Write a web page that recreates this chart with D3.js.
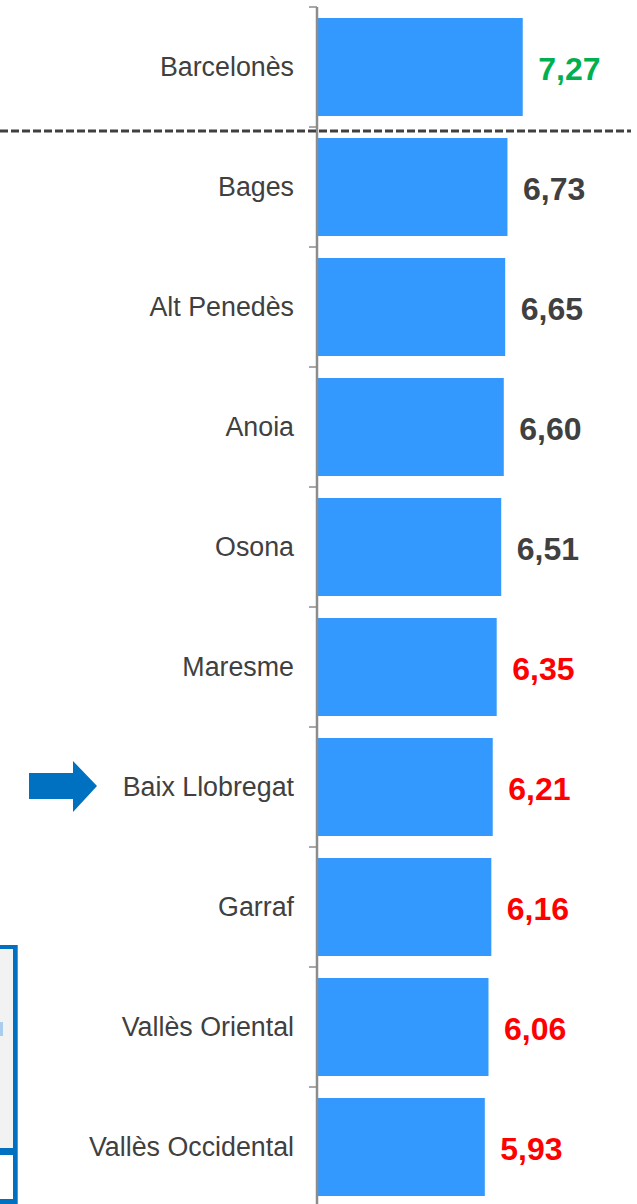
<!DOCTYPE html>
<html>
<head>
<meta charset="utf-8">
<script src="https://cdn.jsdelivr.net/npm/d3@7"></script>
<style>
  html, body { margin: 0; padding: 0; background: #fff; }
  svg { display: block; }
</style>
</head>
<body>
<div id="chart"></div>
<script>
const categories = ["Barcelonès", "Bages", "Alt Penedès", "Anoia", "Osona", "Maresme", "Baix Llobregat", "Garraf", "Vallès Oriental", "Vallès Occidental"];
const values = [7.27, 6.73, 6.65, 6.60, 6.51, 6.35, 6.21, 6.16, 6.06, 5.93];
const valueLabels = ["7,27", "6,73", "6,65", "6,60", "6,51", "6,35", "6,21", "6,16", "6,06", "5,93"];
const highlighted = "Baix Llobregat";

const W = 637, H = 1204;
const svg = d3.select("#chart").append("svg").attr("width", W).attr("height", H);

const axisX = 317;
const x = d3.scaleLinear().domain([0, 8]).range([axisX, axisX + 8 * 28.3]);
const y = d3.scaleBand().domain(categories).range([7, 1207]).paddingInner(0.1833).paddingOuter(0.0917);
const step = y.step();
const color = d3.scaleThreshold().domain([6.4, 7.0]).range(["#ff0000", "#404040", "#00b050"]);

// bottom-left cut-off box
const box = svg.append("g");
box.append("rect").attr("x", -10).attr("y", 945).attr("width", 28).attr("height", 265).attr("fill", "#0070c0");
box.append("rect").attr("x", -10).attr("y", 949).attr("width", 23).attr("height", 199).attr("fill", "#f2f2f2");
box.append("rect").attr("x", -10).attr("y", 1155).attr("width", 23).attr("height", 44).attr("fill", "#ffffff");
box.append("rect").attr("x", 0).attr("y", 1022).attr("width", 3).attr("height", 14).attr("fill", "#a9cdec");
box.append("line").attr("x1", 17.5).attr("x2", 17.5).attr("y1", 945).attr("y2", 1204).attr("stroke", "#4a9ad8").attr("stroke-width", 1);

// bars
svg.append("g").selectAll("rect").data(categories).join("rect")
  .attr("x", x(0) + 1)
  .attr("y", d => y(d))
  .attr("width", (d, i) => x(values[i]) - x(0) - 1)
  .attr("height", y.bandwidth())
  .attr("fill", "#3399ff");

// axis line and ticks at band boundaries
const axisG = svg.append("g");
axisG.append("line").attr("x1", axisX).attr("x2", axisX).attr("y1", 7).attr("y2", H)
  .attr("stroke", "#8c8c8c").attr("stroke-width", 2.5);
axisG.selectAll("line.tick").data(categories).join("line").attr("class", "tick")
  .attr("x1", axisX - 8).attr("x2", axisX)
  .attr("y1", d => y(d) - step * y.paddingInner() / 2)
  .attr("y2", d => y(d) - step * y.paddingInner() / 2)
  .attr("stroke", "#8c8c8c").attr("stroke-width", 1.5);

// dashed separator below first category
const sepY = y(categories[1]) - step * y.paddingInner() / 2 + 4;
svg.append("line").attr("x1", 0).attr("x2", 631).attr("y1", sepY).attr("y2", sepY)
  .attr("stroke", "#404040").attr("stroke-width", 3).attr("stroke-dasharray", "8,3");

// category labels
svg.append("g").selectAll("text").data(categories).join("text")
  .attr("x", axisX - 23)
  .attr("y", d => y(d) + y.bandwidth() / 2)
  .attr("dy", "0.35em")
  .attr("text-anchor", "end")
  .attr("font-family", "Liberation Sans, Arial, sans-serif")
  .attr("font-size", 26.8)
  .attr("fill", "#404040")
  .text(d => d);

// value labels
svg.append("g").selectAll("text").data(categories).join("text")
  .attr("x", (d, i) => x(values[i]) + 15.5)
  .attr("y", d => y(d) + y.bandwidth() / 2 + 2)
  .attr("dy", "0.35em")
  .attr("font-family", "Liberation Sans, Arial, sans-serif")
  .attr("font-weight", "bold")
  .attr("font-size", 32)
  .attr("fill", (d, i) => color(values[i]))
  .text((d, i) => valueLabels[i]);

// arrow pointing at highlighted category
const cy = y(highlighted) + y.bandwidth() / 2 - 1;
svg.append("path")
  .attr("d", `M29,${cy - 13} L73,${cy - 13} L73,${cy - 25} L97,${cy} L73,${cy + 26} L73,${cy + 13} L29,${cy + 13} Z`)
  .attr("fill", "#0070c0");
</script>
</body>
</html>
